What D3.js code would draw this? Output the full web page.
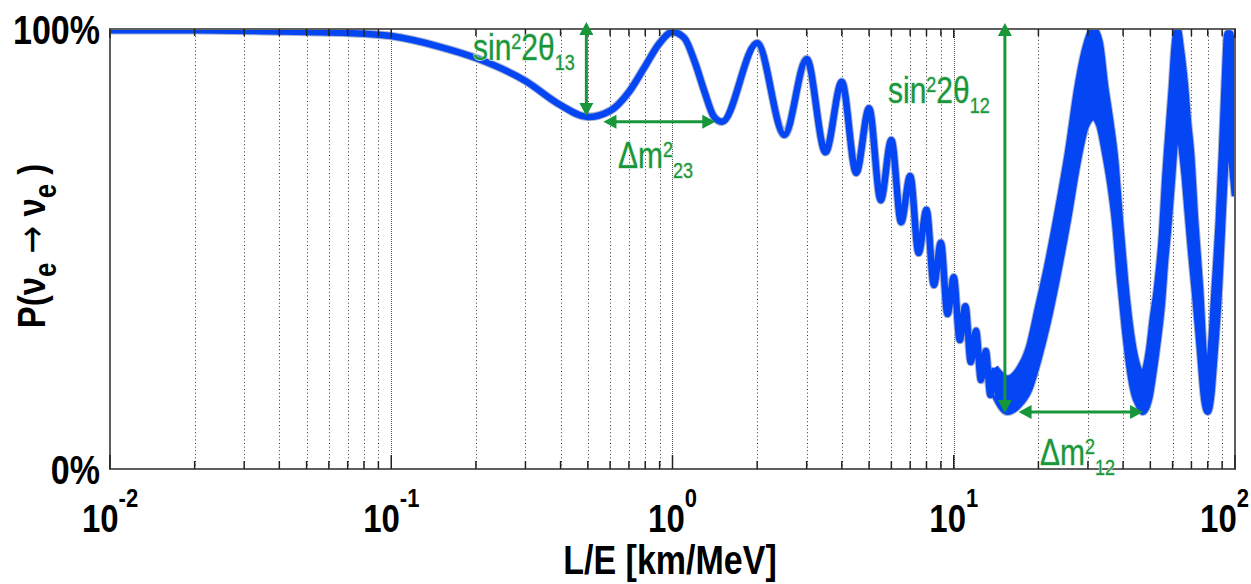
<!DOCTYPE html>
<html><head><meta charset="utf-8">
<script src="https://cdn.jsdelivr.net/npm/d3@7"></script>
<style>body{margin:0;background:#fff;} svg{display:block;}</style>
</head><body><svg id="c" width="1251" height="584"></svg>
<script>
// ---- data ----
const xTickValues = [0.01, 0.1, 1, 10, 100];
const xTickExponents = ["-2", "-1", "0", "1", "2"];
const yTickValues = [0, 1];
const yTickLabels = ["0%", "100%"];

// resolved part of the survival probability curve (L/E in km/MeV, P)
const lineL = [0.01, 0.02, 0.035, 0.05, 0.07, 0.1, 0.15, 0.2, 0.3, 0.4, 0.5, 0.6, 0.7, 0.8, 0.9, 1.0, 1.1, 1.2, 1.3, 1.4, 1.5,
  2, 2.5, 3, 3.5, 4, 4.5, 5, 5.5, 6, 6.5, 7, 7.5, 8, 8.5, 9, 9.5, 10, 10.5, 11, 11.5, 12, 12.5, 13, 13.5, 14];
const lineP = [0.997, 0.997, 0.995, 0.993, 0.991, 0.984, 0.959, 0.934, 0.882, 0.827, 0.800, 0.814, 0.857, 0.916, 0.968, 0.993, 0.980, 0.925, 0.857, 0.802, 0.789,
  0.968, 0.759, 0.932, 0.720, 0.880, 0.673, 0.820, 0.611, 0.748, 0.561, 0.666, 0.491, 0.589, 0.418, 0.514, 0.352, 0.436, 0.293, 0.370, 0.243, 0.314, 0.202, 0.268, 0.168, 0.230];

// unresolved fast-oscillation band: upper and lower envelopes
const bandL = [14, 15.5, 17, 18.5, 20, 21.5, 23.2, 25.5, 27.6, 29.5, 31.4, 33, 34.5, 36, 37.5, 38.9, 40.6, 42.2, 43.9, 45.5,
  47, 49.5, 51, 52.8, 55, 56.5, 57.5, 59.7, 61, 62.5, 64, 66.4, 68, 69.7, 72.1, 75.1, 77.7, 80, 82, 84.5,
  87.7, 89.9, 92, 94, 96, 98, 100];
const bandUpper = [0.230, 0.205, 0.225, 0.275, 0.37, 0.46, 0.57, 0.72, 0.87, 0.96, 1.0, 0.97, 0.87, 0.79, 0.70, 0.57, 0.43, 0.33, 0.26, 0.225,
  0.215, 0.27, 0.34, 0.41, 0.53, 0.66, 0.73, 0.87, 0.96, 1.0, 0.96, 0.87, 0.79, 0.72, 0.566, 0.41, 0.25, 0.22, 0.27, 0.40,
  0.57, 0.72, 0.88, 0.99, 0.99, 0.94, 0.90];
const bandLower = [0.168, 0.130, 0.145, 0.180, 0.25, 0.33, 0.43, 0.57, 0.70, 0.78, 0.80, 0.78, 0.72, 0.65, 0.56, 0.44, 0.32, 0.23, 0.17, 0.145,
  0.130, 0.16, 0.21, 0.28, 0.38, 0.48, 0.53, 0.66, 0.74, 0.79, 0.75, 0.66, 0.58, 0.50, 0.40, 0.27, 0.16, 0.13, 0.16, 0.26,
  0.41, 0.55, 0.68, 0.77, 0.74, 0.68, 0.62];

// annotation arrows (data coordinates)
const arrowFromL = [0.494, 0.568, 15.2, 17.0];
const arrowFromP = [1.016, 0.789, 1.0136, 0.1295];
const arrowToL   = [0.494, 1.42, 15.2, 47.1];
const arrowToP   = [0.802, 0.789, 0.127, 0.1295];

// ---- drawing ----
const M = {left: 110, right: 1235, top: 29, bottom: 469};
const BLUE = "#0546f4", GREEN = "#17963a";
const FONT = "'Liberation Sans', Arial, Helvetica, sans-serif";

const svg = d3.select("#c");
const x = d3.scaleLog().domain([0.01, 100]).range([M.left, M.right]);
const y = d3.scaleLinear().domain([0, 1]).range([M.bottom, M.top]);

const defs = svg.append("defs");
defs.append("clipPath").attr("id", "clip").append("rect")
  .attr("x", M.left).attr("y", M.top).attr("width", M.right - M.left).attr("height", M.bottom - M.top);

// grid lines
const ticks = x.ticks();
const isMajor = v => Math.abs(Math.log10(v) - Math.round(Math.log10(v))) < 1e-9;
svg.append("g").selectAll("line").data(ticks.filter(v => v > 0.01 && v < 100)).join("line")
  .attr("x1", d => Math.round(x(d)) + 0.5).attr("x2", d => Math.round(x(d)) + 0.5)
  .attr("y1", M.top).attr("y2", M.bottom)
  .attr("stroke", d => isMajor(d) ? "#555" : "#333")
  .attr("stroke-width", 1)
  .attr("stroke-dasharray", d => isMajor(d) ? "1,1" : "1,2.6");

// curve
const gCurve = svg.append("g").attr("clip-path", "url(#clip)");
const lineData = lineL.map((l, i) => ({l, p: lineP[i]}));
const bandData = bandL.map((l, i) => ({l, u: bandUpper[i], lo: bandLower[i]}));
const lineGen = d3.line().x(d => x(d.l)).y(d => y(d.p)).curve(d3.curveMonotoneX);
const upGen = d3.line().x(d => x(d.l)).y(d => y(d.u)).curve(d3.curveMonotoneX);
const loGen = d3.line().x(d => x(d.l)).y(d => y(d.lo)).curve(d3.curveMonotoneX);
const areaGen = d3.area().x(d => x(d.l)).y0(d => y(d.lo)).y1(d => y(d.u)).curve(d3.curveMonotoneX);

[["#aab3cf", 8.5], [BLUE, 6.5]].forEach(([col, w]) => {
  gCurve.append("path").datum(bandData).attr("d", areaGen).attr("fill", col).attr("stroke", "none");
  gCurve.append("path").datum(lineData).attr("d", lineGen).attr("fill", "none").attr("stroke", col).attr("stroke-width", w).attr("stroke-linejoin", "round");
  gCurve.append("path").datum(bandData).attr("d", upGen).attr("fill", "none").attr("stroke", col).attr("stroke-width", w).attr("stroke-linejoin", "round");
  gCurve.append("path").datum(bandData).attr("d", loGen).attr("fill", "none").attr("stroke", col).attr("stroke-width", w).attr("stroke-linejoin", "round");
});

// frame
svg.append("rect").attr("x", M.left).attr("y", M.top).attr("width", M.right - M.left).attr("height", M.bottom - M.top)
  .attr("fill", "none").attr("stroke", "#5f5f5f").attr("stroke-width", 2);

// ticks
const gTicks = svg.append("g").attr("stroke", "#222").attr("stroke-width", 1.5);
gTicks.selectAll(".b").data(ticks).join("line").attr("class", "b")
  .attr("x1", d => x(d)).attr("x2", d => x(d))
  .attr("y1", M.bottom).attr("y2", d => M.bottom - (isMajor(d) ? 14 : 8));
gTicks.selectAll(".t").data(ticks).join("line").attr("class", "t")
  .attr("x1", d => x(d)).attr("x2", d => x(d))
  .attr("y1", M.top).attr("y2", d => M.top + (isMajor(d) ? 9 : 7));

// tick labels (x)
const SY = 1.2;
xTickValues.forEach((v, i) => {
  const last = i === xTickValues.length - 1;
  const t = svg.append("text")
    .attr("transform", `translate(${last ? 1249 : x(v)},532) scale(1,${SY})`)
    .attr("text-anchor", last ? "end" : "middle").attr("font-family", FONT).attr("font-weight", "bold")
    .attr("font-size", 33).attr("fill", "#000");
  t.append("tspan").text("10");
  t.append("tspan").attr("font-size", 22).attr("dy", -21).text(xTickExponents[i]);
});
// tick labels (y)
yTickValues.forEach((v, i) => {
  svg.append("text")
    .attr("transform", `translate(100,${y(v) + 14.5}) scale(1,${SY})`)
    .attr("text-anchor", "end").attr("font-family", FONT).attr("font-weight", "bold")
    .attr("font-size", 34).attr("fill", "#000").text(yTickLabels[i]);
});

// axis titles
svg.append("text").attr("transform", `translate(670,574) scale(1,${SY})`)
  .attr("text-anchor", "middle").attr("font-family", FONT).attr("font-weight", "bold")
  .attr("font-size", 34).attr("fill", "#000").text("L/E [km/MeV]");

const yt = svg.append("text").attr("transform", `translate(45,246) rotate(-90) scale(1,${SY})`)
  .attr("text-anchor", "middle").attr("font-family", FONT).attr("font-weight", "bold")
  .attr("font-size", 33).attr("fill", "#000");
yt.append("tspan").text("P(ν");
yt.append("tspan").attr("font-size", 26).attr("dy", 9).text("e");
yt.append("tspan").attr("dy", -9).text(" ");
yt.append("tspan").attr("font-family", "'DejaVu Sans', sans-serif").attr("font-weight", "normal").text("→");
yt.append("tspan").text(" ν");
yt.append("tspan").attr("font-size", 26).attr("dy", 9).text("e");
yt.append("tspan").attr("dy", -9).text(" )");

// annotations: arrows
const gAnn = svg.append("g");
function arrowHead(px, py, ang) {
  const L = 13, Wd = 7;
  const ca = Math.cos(ang), sa = Math.sin(ang);
  const bx = px - L * ca, by = py - L * sa;
  return `M${px},${py} L${bx - Wd * sa},${by + Wd * ca} L${bx + Wd * sa},${by - Wd * ca} Z`;
}
arrowFromL.forEach((_, i) => {
  const x1 = x(arrowFromL[i]), y1 = y(arrowFromP[i]), x2 = x(arrowToL[i]), y2 = y(arrowToP[i]);
  const ang = Math.atan2(y2 - y1, x2 - x1);
  const sh = 8;
  gAnn.append("line")
    .attr("x1", x1 + sh * Math.cos(ang)).attr("y1", y1 + sh * Math.sin(ang))
    .attr("x2", x2 - sh * Math.cos(ang)).attr("y2", y2 - sh * Math.sin(ang))
    .attr("stroke", GREEN).attr("stroke-width", 3);
  gAnn.append("path").attr("d", arrowHead(x2, y2, ang)).attr("fill", GREEN);
  gAnn.append("path").attr("d", arrowHead(x1, y1, ang + Math.PI)).attr("fill", GREEN);
});

// annotations: labels
function label(px, py, parts) {
  const t = gAnn.append("text").attr("transform", `translate(${px},${py}) scale(1,${SY})`)
    .attr("font-family", FONT).attr("font-size", 30).attr("fill", GREEN)
    .attr("stroke", "#cfe8d3").attr("stroke-width", 1.2).attr("paint-order", "stroke");
  let level = 0;
  parts.forEach(([txt, kind]) => {
    const target = kind === "sup" ? -9 : kind === "sub" ? 8.5 : 0;
    const s = t.append("tspan").attr("dy", target - level).text(txt);
    if (kind) s.attr("font-size", 18);
    level = target;
  });
}
label(473, 60, [["sin"], ["2", "sup"], ["2θ"], ["13", "sub"]]);
label(618, 168, [["Δm"], ["2", "sup"], ["23", "sub"]]);
label(888, 103, [["sin"], ["2", "sup"], ["2θ"], ["12", "sub"]]);
label(1040, 465, [["Δm"], ["2", "sup"], ["12", "sub"]]);
</script>
</body></html>
